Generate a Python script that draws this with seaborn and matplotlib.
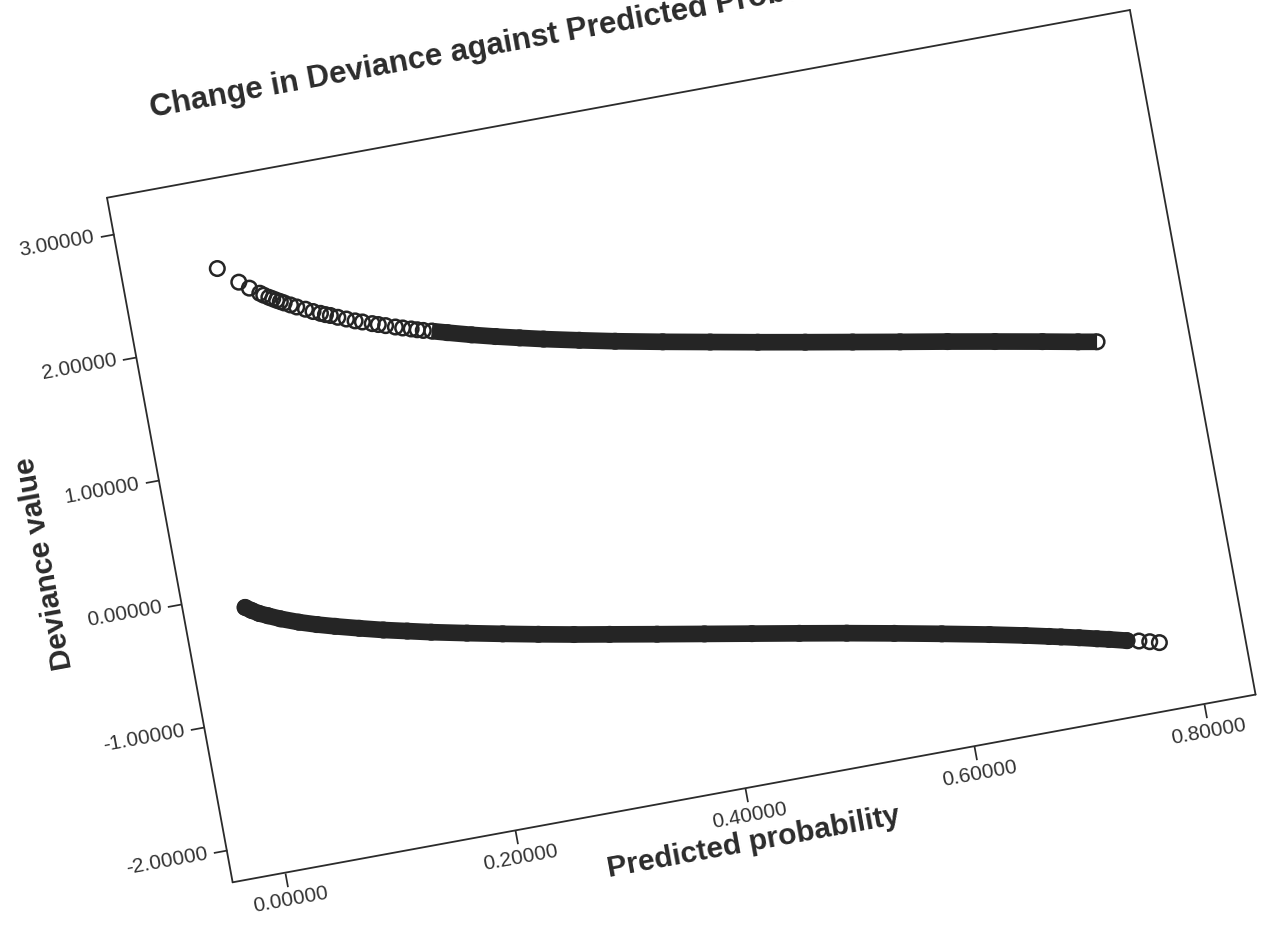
import numpy as np
import pandas as pd
import matplotlib
matplotlib.use("Agg")
import matplotlib.pyplot as plt
import seaborn as sns
from matplotlib.transforms import Affine2D
import mpl_toolkits.axisartist.floating_axes as floating_axes
from mpl_toolkits.axisartist.grid_finder import FixedLocator, DictFormatter

# ---------------- data ----------------
title = "Change in Deviance against Predicted Probability"
x_label = "Predicted probability"
y_label = "Deviance value"

x_ticks = [0.0, 0.2, 0.4, 0.6, 0.8]
x_tick_labels = ["0.00000", "0.20000", "0.40000", "0.60000", "0.80000"]
y_ticks = [-2.0, -1.0, 0.0, 1.0, 2.0, 3.0]
y_tick_labels = ["-2.00000", "-1.00000", "0.00000", "1.00000", "2.00000", "3.00000"]
x_range = (-0.046, 0.845)
y_range = (-2.26, 3.29)

# upper branch (cases with outcome = 1)
upper_x = [0.036, 0.052, 0.060, 0.068, 0.071, 0.075, 0.078, 0.081, 0.084, 0.087,
           0.092, 0.097, 0.104, 0.110, 0.116, 0.120, 0.124, 0.130, 0.137, 0.144,
           0.150, 0.158, 0.163, 0.169, 0.177, 0.183, 0.190, 0.195, 0.200, 0.207,
           0.220, 0.240, 0.260, 0.280, 0.300, 0.330, 0.360, 0.400, 0.440, 0.480,
           0.520, 0.560, 0.600, 0.640, 0.680, 0.720, 0.750, 0.766]
upper_y = [2.576, 2.438, 2.376, 2.321, 2.300, 2.276, 2.259, 2.242, 2.226, 2.210,
           2.185, 2.160, 2.130, 2.101, 2.076, 2.059, 2.045, 2.020, 1.994, 1.967,
           1.948, 1.921, 1.905, 1.886, 1.861, 1.843, 1.823, 1.808, 1.794, 1.777,
           1.742, 1.690, 1.642, 1.597, 1.553, 1.492, 1.433, 1.360, 1.290, 1.220,
           1.152, 1.085, 1.018, 0.952, 0.884, 0.815, 0.762, 0.735]

# lower branch (cases with outcome = 0)
lower_x = [0.007, 0.012, 0.018, 0.025, 0.035, 0.050, 0.065, 0.080, 0.100, 0.120,
           0.140, 0.160, 0.190, 0.220, 0.250, 0.280, 0.310, 0.350, 0.390, 0.430,
           0.470, 0.510, 0.550, 0.590, 0.630, 0.660, 0.680, 0.690, 0.705, 0.720,
           0.730, 0.745, 0.755, 0.764, 0.772]
lower_y = [-0.122, -0.155, -0.190, -0.220, -0.262, -0.315, -0.360, -0.400, -0.450, -0.498,
           -0.541, -0.584, -0.643, -0.700, -0.755, -0.808, -0.858, -0.925, -0.991, -1.057,
           -1.123, -1.190, -1.260, -1.332, -1.406, -1.465, -1.507, -1.528, -1.560, -1.594,
           -1.616, -1.652, -1.672, -1.693, -1.714]

# ---------------- figure ----------------
sns.set_theme(style="white")
plt.rcParams["font.family"] = ["Liberation Sans", "DejaVu Sans"]

W, H = 1265, 930
fig = plt.figure(figsize=(W / 100, H / 100), dpi=100)
fig.patch.set_facecolor("white")

angle = 10.4                      # page tilt of the scanned chart
plot_w_px, plot_h_px = 1040.0, 696.0
sx = plot_w_px / (x_range[1] - x_range[0])
sy = plot_h_px / (y_range[1] - y_range[0])
tr = Affine2D().scale(sx, sy).rotate_deg(angle)

grid_helper = floating_axes.GridHelperCurveLinear(
    tr,
    extremes=(x_range[0], x_range[1], y_range[0], y_range[1]),
    grid_locator1=FixedLocator(x_ticks),
    grid_locator2=FixedLocator(y_ticks),
    tick_formatter1=DictFormatter(dict(zip(x_ticks, x_tick_labels))),
    tick_formatter2=DictFormatter(dict(zip(y_ticks, y_tick_labels))),
)

c, s = np.cos(np.radians(angle)), np.sin(np.radians(angle))
bb_w = plot_w_px * c + plot_h_px * s
bb_h = plot_w_px * s + plot_h_px * c
ax_w, ax_h = bb_w * 1.02, bb_h * 1.02
left_px = 107 - (ax_w - bb_w) / 2
top_px = 10 - (ax_h - bb_h) / 2
rect = [left_px / W, 1 - (top_px + ax_h) / H, ax_w / W, ax_h / H]
ax = fig.add_axes(rect, axes_class=floating_axes.FloatingAxes, grid_helper=grid_helper)
ax.patch.set_facecolor("white")

frame_col = "#2b2b2b"
for side in ["left", "bottom", "right", "top"]:
    a = ax.axis[side]
    a.line.set_color(frame_col)
    a.line.set_linewidth(1.3)
    a.major_ticks.set_color(frame_col)
    a.major_ticks.set_linewidth(1.5)
    a.major_ticks.set_ticksize(10)
    a.major_ticks.set_tick_out(True)
    a.major_ticklabels.set_fontsize(15)
    a.major_ticklabels.set_color("#333333")
for side in ["right", "top"]:
    ax.axis[side].major_ticks.set_visible(False)
    ax.axis[side].major_ticklabels.set_visible(False)
    ax.axis[side].label.set_visible(False)
ax.axis["left"].major_ticklabels.set_pad(4)
ax.axis["bottom"].major_ticklabels.set_pad(4)

ax.axis["bottom"].label.set_text(x_label)
ax.axis["bottom"].label.set_fontsize(21.5)
ax.axis["bottom"].label.set_fontweight("bold")
ax.axis["bottom"].label.set_color("#2b2b2b")
ax.axis["bottom"].label.set_visible(True)
ax.axis["left"].label.set_text(y_label)
ax.axis["left"].label.set_fontsize(21.5)
ax.axis["left"].label.set_fontweight("bold")
ax.axis["left"].label.set_color("#2b2b2b")
ax.axis["left"].label.set_pad(8)
ax.axis["left"].label.set_visible(True)

aux = ax.get_aux_axes(tr)

up = pd.DataFrame({"p": upper_x, "dev": upper_y})
lo = pd.DataFrame({"p": lower_x, "dev": lower_y})

ink = "#252525"
# dense parts of each branch, where the circles merge into a solid band
sns.lineplot(data=up[up["p"] >= 0.207], x="p", y="dev", ax=aux,
             color=ink, lw=12, solid_capstyle="butt", sort=False, estimator=None, zorder=2)
sns.lineplot(data=lo[lo["p"] <= 0.745], x="p", y="dev", ax=aux, color=ink,
             lw=12, solid_capstyle="round", sort=False, estimator=None, zorder=2)

for d in (up, lo):
    sns.scatterplot(data=d, x="p", y="dev", ax=aux, marker="o", s=110,
                    facecolors="none", edgecolor=ink, linewidth=1.8,
                    zorder=3, legend=False)

# chart title (centred over the whole chart, tilted with the page)
tx = x_range[0] + 0.41 * (x_range[1] - x_range[0])
ty = y_range[1] + 0.114 * (y_range[1] - y_range[0])
aux.text(tx, ty, title, rotation=angle, rotation_mode="anchor", ha="center",
         va="center", fontsize=22.5, fontweight="bold", color="#2b2b2b",
         clip_on=False, visible=True)

fig.savefig("out.png", dpi=100, facecolor="white")
